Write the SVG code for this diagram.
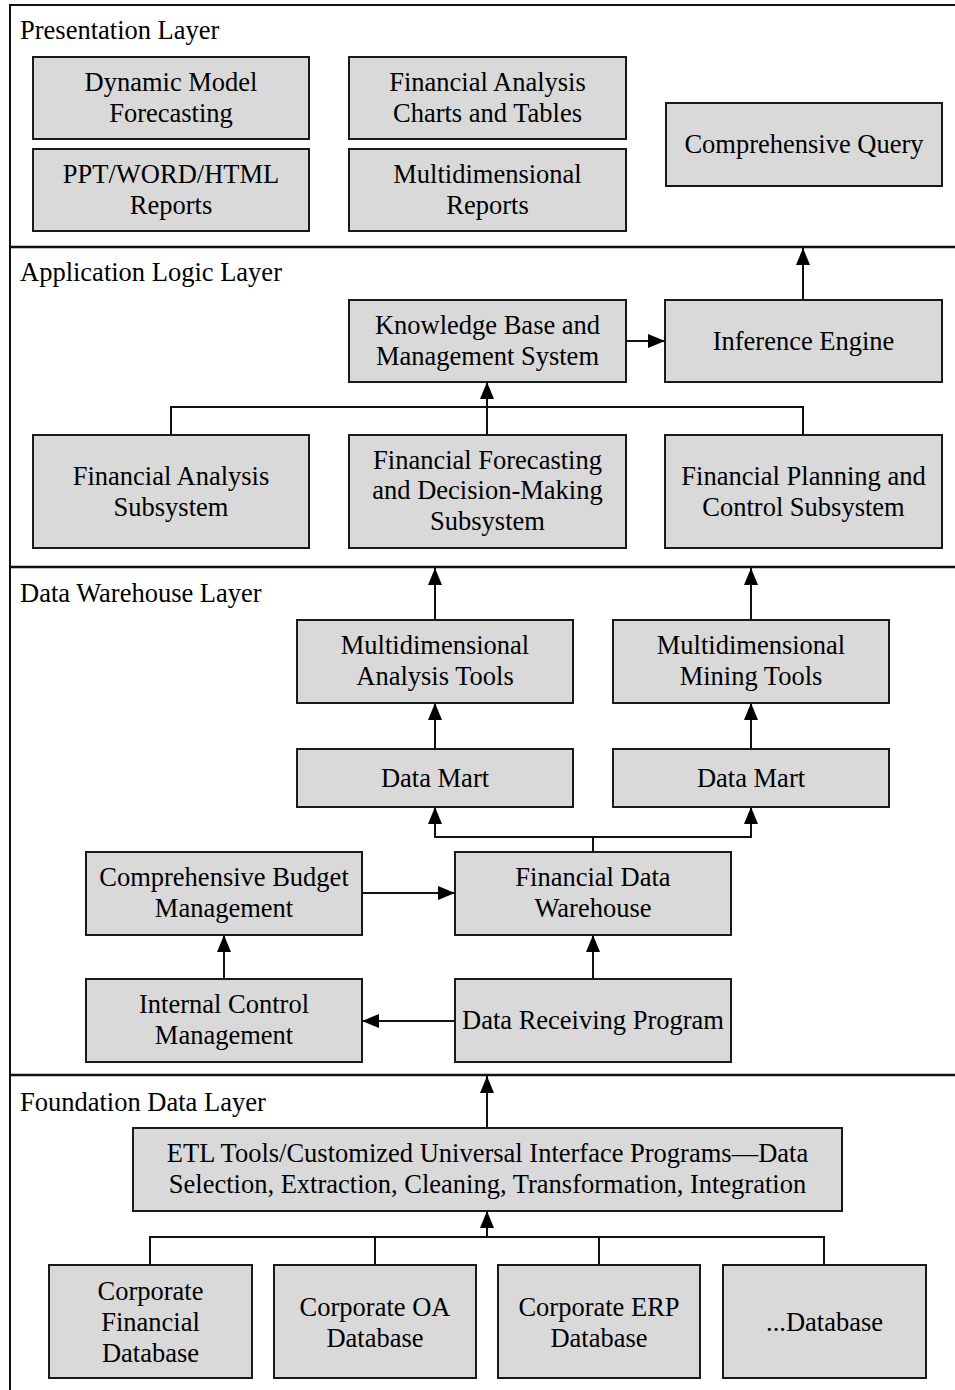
<svg xmlns="http://www.w3.org/2000/svg" width="955" height="1390" viewBox="0 0 955 1390">
<style>
.box rect{fill:#d9d9d9;stroke:#1a1a1a;stroke-width:2}
text{font-family:"Liberation Serif","Times New Roman",serif;font-size:26.5px;fill:#000}
.box text{text-anchor:middle}
.frame{stroke:#111;stroke-width:2;fill:none}
.div{stroke:#111;stroke-width:2.5}
#connectors path{fill:none;stroke:#111;stroke-width:2}
</style>
<defs>
<marker id="arr" markerUnits="userSpaceOnUse" markerWidth="17" markerHeight="14" refX="17" refY="7" orient="auto">
<path d="M0,0 L17,7 L0,14 z" fill="#000"/>
</marker>
</defs>
<rect width="955" height="1390" fill="#fff"/>
<g id="frame">
<path class="frame" d="M10,1392 V5 H957"/>
<line class="div" x1="10" y1="247" x2="957" y2="247"/>
<line class="div" x1="10" y1="567" x2="957" y2="567"/>
<line class="div" x1="10" y1="1075" x2="957" y2="1075"/>
</g>
<g id="layer-labels">
<text x="20" y="39">Presentation Layer</text>
<text x="20" y="281">Application Logic Layer</text>
<text x="20" y="602">Data Warehouse Layer</text>
<text x="20" y="1111">Foundation Data Layer</text>
</g>
<g id="n-dmf" class="box"><rect x="33" y="57" width="276" height="82"/><text x="171" y="91">Dynamic Model</text><text x="171" y="122">Forecasting</text></g>
<g id="n-ppt" class="box"><rect x="33" y="149" width="276" height="82"/><text x="171" y="183">PPT/WORD/HTML</text><text x="171" y="214">Reports</text></g>
<g id="n-fact" class="box"><rect x="349" y="57" width="277" height="82"/><text x="487.5" y="91">Financial Analysis</text><text x="487.5" y="122">Charts and Tables</text></g>
<g id="n-mr" class="box"><rect x="349" y="149" width="277" height="82"/><text x="487.5" y="183">Multidimensional</text><text x="487.5" y="214">Reports</text></g>
<g id="n-cq" class="box"><rect x="666" y="103" width="276" height="83"/><text x="804" y="153">Comprehensive Query</text></g>
<g id="n-kb" class="box"><rect x="349" y="300" width="277" height="82"/><text x="487.5" y="334">Knowledge Base and</text><text x="487.5" y="365">Management System</text></g>
<g id="n-ie" class="box"><rect x="665" y="300" width="277" height="82"/><text x="803.5" y="349.5">Inference Engine</text></g>
<g id="n-fas" class="box"><rect x="33" y="435" width="276" height="113"/><text x="171" y="484.5">Financial Analysis</text><text x="171" y="515.5">Subsystem</text></g>
<g id="n-ffdm" class="box"><rect x="349" y="435" width="277" height="113"/><text x="487.5" y="468.5">Financial Forecasting</text><text x="487.5" y="499">and Decision-Making</text><text x="487.5" y="529.5">Subsystem</text></g>
<g id="n-fpcs" class="box"><rect x="665" y="435" width="277" height="113"/><text x="803.5" y="484.5">Financial Planning and</text><text x="803.5" y="515.5">Control Subsystem</text></g>
<g id="n-mat" class="box"><rect x="297" y="620" width="276" height="83"/><text x="435" y="654">Multidimensional</text><text x="435" y="685">Analysis Tools</text></g>
<g id="n-mmt" class="box"><rect x="613" y="620" width="276" height="83"/><text x="751" y="654">Multidimensional</text><text x="751" y="685">Mining Tools</text></g>
<g id="n-dm1" class="box"><rect x="297" y="749" width="276" height="58"/><text x="435" y="787">Data Mart</text></g>
<g id="n-dm2" class="box"><rect x="613" y="749" width="276" height="58"/><text x="751" y="787">Data Mart</text></g>
<g id="n-cbm" class="box"><rect x="86" y="852" width="276" height="83"/><text x="224" y="886">Comprehensive Budget</text><text x="224" y="917">Management</text></g>
<g id="n-fdw" class="box"><rect x="455" y="852" width="276" height="83"/><text x="593" y="886">Financial Data</text><text x="593" y="917">Warehouse</text></g>
<g id="n-icm" class="box"><rect x="86" y="979" width="276" height="83"/><text x="224" y="1013">Internal Control</text><text x="224" y="1044">Management</text></g>
<g id="n-drp" class="box"><rect x="455" y="979" width="276" height="83"/><text x="593" y="1029">Data Receiving Program</text></g>
<g id="n-etl" class="box"><rect x="133" y="1128" width="709" height="83"/><text x="487.5" y="1162">ETL Tools/Customized Universal Interface Programs—Data</text><text x="487.5" y="1193">Selection, Extraction, Cleaning, Transformation, Integration</text></g>
<g id="n-cfd" class="box"><rect x="49" y="1265" width="203" height="113"/><text x="150.5" y="1300">Corporate</text><text x="150.5" y="1331">Financial</text><text x="150.5" y="1362">Database</text></g>
<g id="n-oa" class="box"><rect x="274" y="1265" width="202" height="113"/><text x="375" y="1315.5">Corporate OA</text><text x="375" y="1346.5">Database</text></g>
<g id="n-erp" class="box"><rect x="498" y="1265" width="202" height="113"/><text x="599" y="1315.5">Corporate ERP</text><text x="599" y="1346.5">Database</text></g>
<g id="n-db" class="box"><rect x="723" y="1265" width="203" height="113"/><text x="824.5" y="1331">...Database</text></g>
<g id="connectors">
<path d="M803,300 V248" marker-end="url(#arr)"/>
<path d="M626,341 H665" marker-end="url(#arr)"/>
<path d="M171,435 V407 H803 V435"/>
<path d="M487,435 V382" marker-end="url(#arr)"/>
<path d="M435,620 V568" marker-end="url(#arr)"/>
<path d="M751,620 V568" marker-end="url(#arr)"/>
<path d="M435,749 V703" marker-end="url(#arr)"/>
<path d="M751,749 V703" marker-end="url(#arr)"/>
<path d="M593,852 V837 H435 V807" marker-end="url(#arr)"/>
<path d="M593,837 H751 V807" marker-end="url(#arr)"/>
<path d="M362,893 H455" marker-end="url(#arr)"/>
<path d="M224,979 V935" marker-end="url(#arr)"/>
<path d="M593,979 V935" marker-end="url(#arr)"/>
<path d="M455,1021 H362" marker-end="url(#arr)"/>
<path d="M487,1128 V1076" marker-end="url(#arr)"/>
<path d="M150,1265 V1237 H824 V1265"/>
<path d="M375,1237 V1265"/>
<path d="M599,1237 V1265"/>
<path d="M487,1237 V1211" marker-end="url(#arr)"/>
</g>
</svg>
